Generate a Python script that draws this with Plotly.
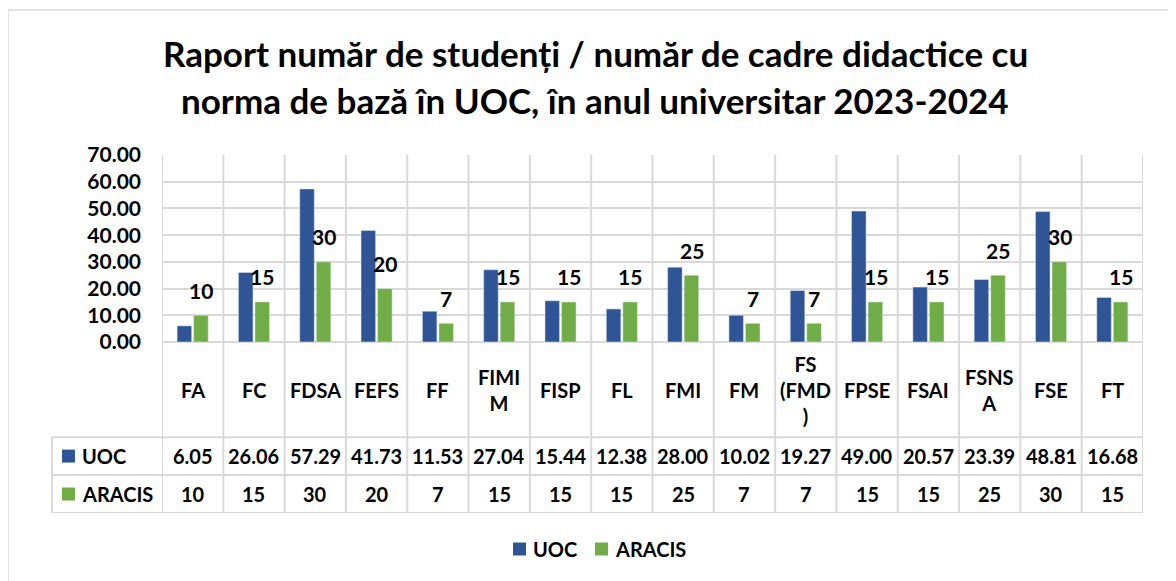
import plotly.graph_objects as go

categories = ["FA", "FC", "FDSA", "FEFS", "FF", "FIMIM", "FISP", "FL", "FMI", "FM",
              "FS (FMD)", "FPSE", "FSAI", "FSNSA", "FSE", "FT"]
header_labels = ["FA", "FC", "FDSA", "FEFS", "FF", "FIMI<br>M", "FISP", "FL", "FMI", "FM",
                 "FS<br>(FMD<br>)", "FPSE", "FSAI", "FSNS<br>A", "FSE", "FT"]
uoc = [6.05, 26.06, 57.29, 41.73, 11.53, 27.04, 15.44, 12.38, 28.00, 10.02,
       19.27, 49.00, 20.57, 23.39, 48.81, 16.68]
aracis = [10, 15, 30, 20, 7, 15, 15, 15, 25, 7, 7, 15, 15, 25, 30, 15]
y_ticks = [0, 10, 20, 30, 40, 50, 60, 70]

BLUE = "#2F5597"
GREEN = "#70AD47"
GRID = "#D9D9D9"
FONT = "Lato"
W, H = 1176, 581
OFF = 8  # page body margin
PX_L, PX_R, PX_T, PX_B = 162, 1143, 155, 513
ML = PX_L - OFF
MT = PX_T - OFF
MR = W - ML - (PX_R - PX_L)
MB = H - MT - (PX_B - PX_T)
YMIN, YMAX = -64, 70
plot_w = PX_R - PX_L
plot_h = PX_B - PX_T

def px_to_paper_x(px):
    return (px - PX_L) / plot_w

def px_to_paper_y(py):
    return (PX_B - py) / plot_h

def y_to_px(v):
    return PX_T + (YMAX - v) / (YMAX - YMIN) * plot_h

header_bottom = -35.6
row1_bottom = -49.8
row2_bottom = YMIN
header_mid = header_bottom / 2
row1_mid = (header_bottom + row1_bottom) / 2
row2_mid = (row1_bottom + row2_bottom) / 2

fig = go.Figure()
fig.add_trace(go.Bar(name="UOC", x=categories, y=uoc, marker_color=BLUE, showlegend=False))
fig.add_trace(go.Bar(name="ARACIS", x=categories, y=aracis, marker_color=GREEN, showlegend=False))

annotations = []
shapes = []
TITLE_SIZE = 35
annotations.append(dict(text="<b>Raport număr de studenți / număr de cadre didactice cu</b>",
                        xref="paper", yref="paper", x=px_to_paper_x(595), y=px_to_paper_y(53),
                        showarrow=False, font=dict(family=FONT, size=TITLE_SIZE, color="#000"),
                        xanchor="center", yanchor="middle"))
annotations.append(dict(text="<b>norma de bază în UOC, în anul universitar 2023-2024</b>",
                        xref="paper", yref="paper", x=px_to_paper_x(595), y=px_to_paper_y(100),
                        showarrow=False, font=dict(family=FONT, size=TITLE_SIZE, color="#000"),
                        xanchor="center", yanchor="middle"))

for c, v in zip(categories, aracis):
    annotations.append(dict(text=f"<b>{v}</b>", x=c, y=v, xref="x", yref="y",
                            xshift=8.5, yshift=25, showarrow=False,
                            xanchor="center", yanchor="middle",
                            font=dict(family=FONT, size=21, color="#000")))

TS = 20
for c, lab, u, a in zip(categories, header_labels, uoc, aracis):
    annotations.append(dict(text=f"<b>{lab}</b>", x=c, y=header_mid, xref="x", yref="y",
                            showarrow=False, xanchor="center", yanchor="middle",
                            font=dict(family=FONT, size=TS, color="#000")))
    annotations.append(dict(text=f"<b>{u:.2f}</b>", x=c, y=row1_mid, xref="x", yref="y",
                            showarrow=False, xanchor="center", yanchor="middle",
                            font=dict(family=FONT, size=TS, color="#000")))
    annotations.append(dict(text=f"<b>{a}</b>", x=c, y=row2_mid, xref="x", yref="y",
                            showarrow=False, xanchor="center", yanchor="middle",
                            font=dict(family=FONT, size=TS, color="#000")))

SQ_PX = 13

def key_square(x_left_px, y_center_px, color):
    shapes.append(dict(type="rect", xref="paper", yref="paper",
                       x0=px_to_paper_x(x_left_px), x1=px_to_paper_x(x_left_px + SQ_PX),
                       y0=px_to_paper_y(y_center_px + SQ_PX / 2),
                       y1=px_to_paper_y(y_center_px - SQ_PX / 2),
                       fillcolor=color, line=dict(width=0), layer="above"))

# row headers with legend keys
for name, col, ymid in [("UOC", BLUE, row1_mid), ("ARACIS", GREEN, row2_mid)]:
    key_square(62, y_to_px(ymid), col)
    annotations.append(dict(text=f"<b>{name}</b>", x=px_to_paper_x(80), y=ymid, xref="paper", yref="y",
                            showarrow=False, xanchor="left", yanchor="middle",
                            font=dict(family=FONT, size=TS, color="#000")))

# bottom legend
for name, col, x_sq, x_txt in [("UOC", BLUE, 513, 531), ("ARACIS", GREEN, 595, 613)]:
    key_square(x_sq, 549, col)
    annotations.append(dict(text=f"<b>{name}</b>", x=px_to_paper_x(x_txt), y=px_to_paper_y(549),
                            xref="paper", yref="paper", showarrow=False,
                            xanchor="left", yanchor="middle",
                            font=dict(family=FONT, size=TS, color="#000")))

for i in range(len(categories) + 1):
    shapes.append(dict(type="line", xref="x", yref="y", x0=i - 0.5, x1=i - 0.5,
                       y0=YMIN, y1=YMAX, line=dict(color=GRID, width=2), layer="below"))
for yv in [header_bottom, row1_bottom, row2_bottom]:
    shapes.append(dict(type="line", xref="paper", yref="y", x0=px_to_paper_x(52), x1=1,
                       y0=yv, y1=yv, line=dict(color=GRID, width=2), layer="below"))
shapes.append(dict(type="line", xref="paper", yref="y", x0=px_to_paper_x(52), x1=px_to_paper_x(52),
                   y0=header_bottom, y1=row2_bottom, line=dict(color=GRID, width=2), layer="below"))
shapes.append(dict(type="rect", xref="paper", yref="paper",
                   x0=px_to_paper_x(8), x1=px_to_paper_x(1200),
                   y0=px_to_paper_y(620), y1=px_to_paper_y(10),
                   line=dict(color=GRID, width=1.5), layer="below"))

fig.update_layout(
    width=W, height=H, autosize=False,
    margin=dict(l=ML, r=MR, t=MT, b=MB),
    paper_bgcolor="white", plot_bgcolor="white",
    barmode="group", bargap=0.46, bargroupgap=0.12,
    font=dict(family=FONT, size=TS, color="#000"),
    showlegend=False,
    annotations=annotations,
    shapes=shapes,
    xaxis=dict(showticklabels=False, showgrid=False, zeroline=False, showline=False,
               ticks="", range=[-0.5, len(categories) - 0.5]),
    yaxis=dict(range=[YMIN, YMAX], tickvals=y_ticks, tickformat=".2f",
               showgrid=True, gridcolor=GRID, gridwidth=2, zeroline=False, showline=False,
               tickfont=dict(family=FONT, size=21, color="#000", weight="bold"),
               ticklabelstandoff=20),
)

fig.write_html("out.html")
